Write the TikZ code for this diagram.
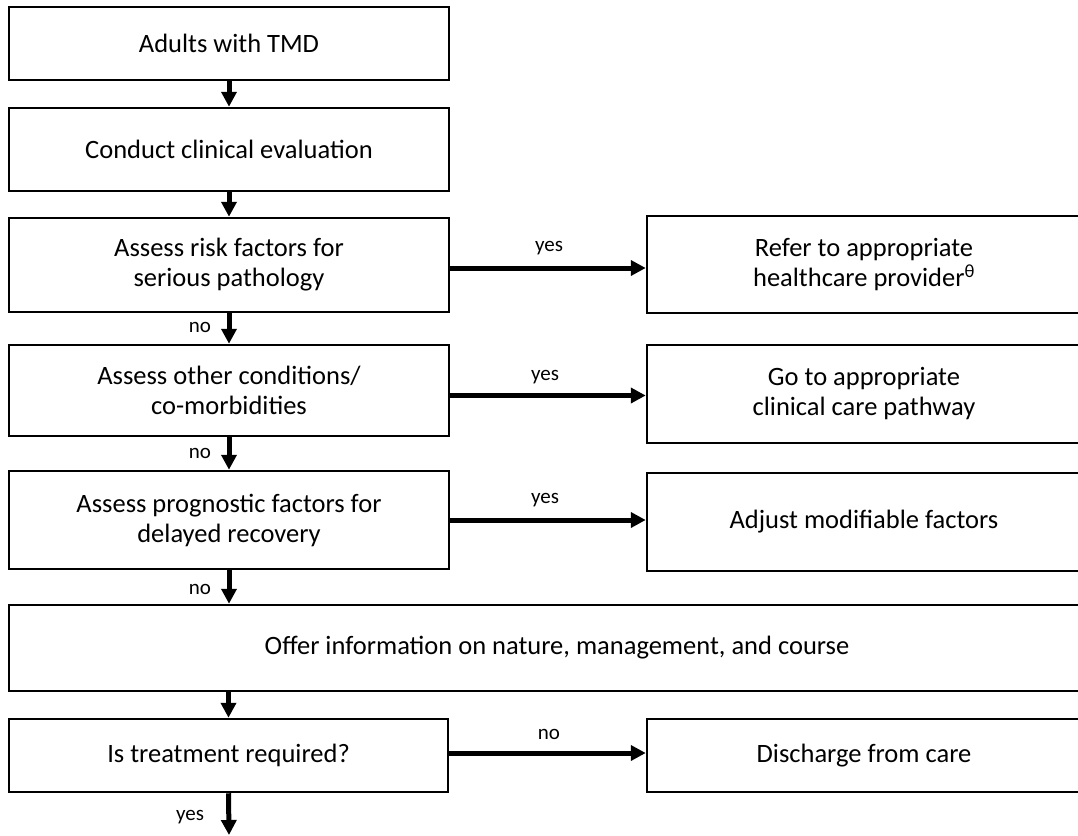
\documentclass[tikz,border=0pt]{standalone}
\usepackage{fontspec}
\setmainfont{Carlito}
\usetikzlibrary{arrows.meta}
\begin{document}
\begin{tikzpicture}[x=1pt,y=-1pt,
  box/.style={draw=black,line width=2.5pt,rectangle,inner sep=0pt,align=center,
    font=\fontsize{26.5}{30}\selectfont},
  lbox/.style={box,minimum width=440pt},
  rbox/.style={box,minimum width=434pt},
  arr/.style={line width=5pt,-{Triangle[length=15pt,width=15pt]}},
  lbl/.style={inner sep=0pt,font=\fontsize{21}{25}\selectfont}]
\useasboundingbox (0,0) rectangle (1078,835);
\clip (0,0) rectangle (1078,835);
\fill[white] (0,0) rectangle (1078,835);
% left column
\node[lbox,minimum height=73pt] (b1) at (229,43.5) {Adults with TMD};
\node[lbox,minimum height=83pt] (b2) at (229,149.5) {Conduct clinical evaluation};
\node[lbox,minimum height=94pt] (b3) at (229,265) {Assess risk factors for\\serious pathology};
\node[lbox,minimum height=91pt] (b4) at (229,390.5) {Assess other conditions/\\co-morbidities};
\node[lbox,minimum height=98pt] (b5) at (229,520) {Assess prognostic factors for\\delayed recovery};
\node[box,minimum width=1096pt,minimum height=86pt] (b6) at (557,648) {Offer information on nature, management, and course};
\node[box,minimum width=439pt,minimum height=73pt] (b7) at (228.5,755.5) {Is treatment required?};
% right column
\node[rbox,minimum height=97pt] (r1) at (864,264.5) {Refer to appropriate\\healthcare provider\textsuperscript{θ}};
\node[rbox,minimum height=98pt] (r2) at (864,394) {Go to appropriate\\clinical care pathway};
\node[rbox,minimum height=98pt] (r3) at (864,522) {Adjust modifiable factors};
\node[rbox,minimum height=73pt] (r4) at (864,755.5) {Discharge from care};
\coordinate (end) at (229,835);
% vertical arrows
\draw[arr] (b1.south) -- (b2.north);
\draw[arr] (b2.south) -- (b3.north);
\draw[arr] (b3.south) -- (b4.north);
\draw[arr] (b4.south) -- (b5.north);
\draw[arr] (b5.south) -- (b5.south |- b6.north);
\draw[arr] (b7.north |- b6.south) -- (b7.north);
\draw[arr] (b7.south) -- (end);
% horizontal arrows
\draw[arr] ([yshift=-3pt]b3.east) -- ([yshift=-3pt]b3.east -| r1.west);
\draw[arr] ([yshift=-5pt]b4.east) -- ([yshift=-5pt]b4.east -| r2.west);
\draw[arr] (b5.east) -- (b5.east -| r3.west);
\draw[arr] ([yshift=2.5pt]b7.east) -- ([yshift=2.5pt]b7.east -| r4.west);
% labels
\node[lbl] (y1) at (549,248) {yes};
\node[lbl] (y2) at (545,377) {yes};
\node[lbl] (y3) at (545,500) {yes};
\node[lbl] (n4) at (549,734) {no};
\node[lbl] (n1) at (200,327) {no};
\node[lbl] (n2) at (200,453) {no};
\node[lbl] (n3) at (200,589) {no};
\node[lbl] (y4) at (190,817) {yes};
\end{tikzpicture}
\end{document}
